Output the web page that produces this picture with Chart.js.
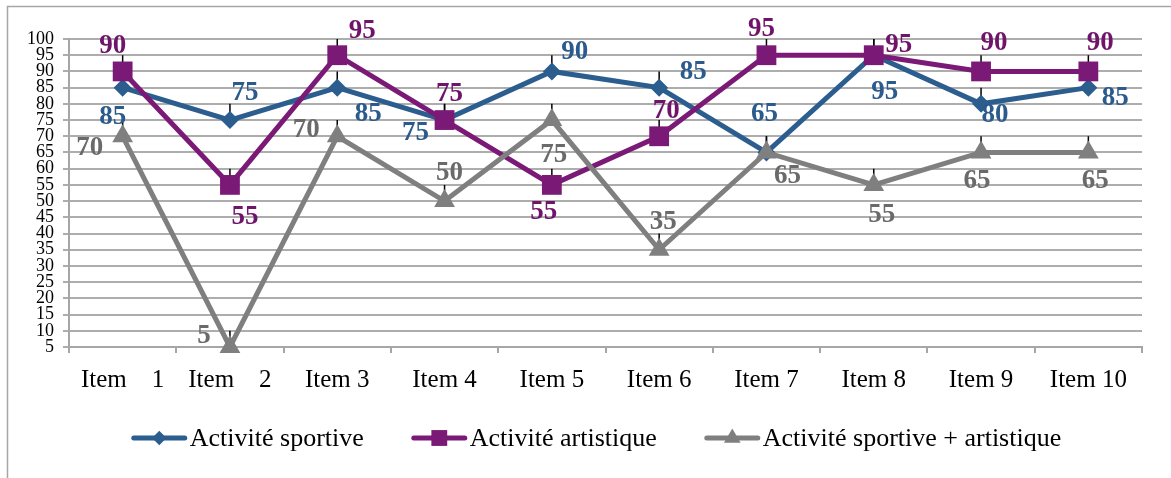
<!DOCTYPE html>
<html>
<head>
<meta charset="utf-8">
<style>
  html, body { margin: 0; padding: 0; background: #fff; }
</style>
<script src="https://cdn.jsdelivr.net/npm/chart.js@4.4.0/dist/chart.umd.min.js"></script>
</head>
<body>
<canvas id="chart" width="1171" height="478"></canvas>
<script>
// Chart data
const categories = ['Item    1', 'Item    2', 'Item 3', 'Item 4', 'Item 5', 'Item 6', 'Item 7', 'Item 8', 'Item 9', 'Item 10'];
const sportive = [85, 75, 85, 75, 90, 85, 65, 95, 80, 85];
const artistique = [90, 55, 95, 75, 55, 70, 95, 95, 90, 90];
const mixte = [70, 5, 70, 50, 75, 35, 65, 55, 65, 65];
const errorPlus = 5;
const yMin = 5, yMax = 100, yStep = 5;

// Value label offsets (px from the point)
const sportiveLabelPos = [[-10, 29], [15, -27], [31, 26], [-29, 13], [23, -19], [34, -16], [-2, -38], [11, 37], [14, 11], [27, 10]];
const artistiqueLabelPos = [[-10, -25], [15, 32], [25, -24], [5, -26], [-8, 27], [7, -25], [-5, -26], [25, -10], [13, -28], [12, -28]];
const mixteLabelPos = [[-33, 12], [-26, -11], [-31, -6], [5, -28], [2, 35], [4, -28], [21, 24], [8, 30], [-4, 29], [7, 29]];

const SERIF = '"Liberation Serif", "Times New Roman", serif';

const series = [
    { label: 'Activité sportive', data: sportive, color: '#2B5D8F', text: '#2B5B8C', style: 'rectRot', r: 9, pos: sportiveLabelPos, order: 2 },
    { label: 'Activité artistique', data: artistique, color: '#7B1A76', text: '#70146B', style: 'rect', r: 14, pos: artistiqueLabelPos, order: 1 },
    { label: 'Activité sportive + artistique', data: mixte, color: '#7F7F7F', text: '#6A6A6A', style: 'triangle', r: 12, pos: mixteLabelPos, order: 0 }
];

// Frame, error bars, value labels and legend
const decorations = {
    id: 'decorations',
    beforeDraw(chart) {
        const ctx = chart.ctx;
        ctx.save();
        ctx.strokeStyle = '#A6A6A6';
        ctx.lineWidth = 1.5;
        ctx.beginPath();
        ctx.moveTo(7.5, chart.height);
        ctx.lineTo(7.5, 6.5);
        ctx.lineTo(chart.width, 6.5);
        ctx.stroke();
        ctx.restore();
    },
    beforeDatasetsDraw(chart) {
        const ctx = chart.ctx;
        const y = chart.scales.y;
        ctx.save();
        ctx.strokeStyle = '#000';
        ctx.lineWidth = 1.5;
        chart.data.datasets.forEach((ds, i) => {
            const meta = chart.getDatasetMeta(i);
            meta.data.forEach((pt, j) => {
                ctx.beginPath();
                ctx.moveTo(pt.x, y.getPixelForValue(ds.data[j]));
                ctx.lineTo(pt.x, y.getPixelForValue(ds.data[j] + errorPlus));
                ctx.stroke();
            });
        });
        ctx.restore();
    },
    afterDatasetsDraw(chart) {
        const ctx = chart.ctx;
        ctx.save();
        ctx.font = 'bold 27px ' + SERIF;
        ctx.textAlign = 'center';
        ctx.textBaseline = 'middle';
        chart.data.datasets.forEach((ds, i) => {
            const s = series[i];
            const meta = chart.getDatasetMeta(i);
            ctx.fillStyle = s.text;
            meta.data.forEach((pt, j) => {
                ctx.fillText(String(ds.data[j]), pt.x + s.pos[j][0], pt.y + s.pos[j][1]);
            });
        });
        ctx.restore();
    },
    afterDraw(chart) {
        const ctx = chart.ctx;
        const lineLen = 55, textGap = 3, itemGap = 48, cy = 438;
        ctx.save();
        ctx.font = '26px ' + SERIF;
        ctx.textBaseline = 'middle';
        const widths = series.map(s => lineLen + textGap + ctx.measureText(s.label).width);
        const total = widths.reduce((a, b) => a + b, 0) + itemGap * (series.length - 1);
        let x = chart.width / 2 + 11 - total / 2;
        series.forEach((s, i) => {
            ctx.strokeStyle = s.color;
            ctx.lineWidth = 5;
            ctx.lineCap = 'round';
            ctx.beginPath();
            ctx.moveTo(x + 2, cy);
            ctx.lineTo(x + lineLen - 2, cy);
            ctx.stroke();
            ctx.fillStyle = s.color;
            Chart.helpers.drawPoint(ctx, { pointStyle: s.style, radius: s.r * 0.8, rotation: 0, borderWidth: 0 }, x + lineLen / 2, cy);
            ctx.fillStyle = '#000';
            ctx.fillText(s.label, x + lineLen + textGap, cy + 1);
            x += widths[i] + itemGap;
        });
        ctx.restore();
    }
};

new Chart(document.getElementById('chart'), {
    type: 'line',
    data: {
        labels: categories,
        datasets: series.map(s => ({
            label: s.label,
            data: s.data,
            borderColor: s.color,
            backgroundColor: s.color,
            borderWidth: 5,
            tension: 0,
            pointStyle: s.style,
            pointRadius: s.r,
            pointHoverRadius: s.r,
            pointBorderWidth: 0,
            pointBackgroundColor: s.color,
            order: s.order,
            clip: false
        }))
    },
    options: {
        responsive: false,
        animation: false,
        events: [],
        layout: { padding: { top: 39, right: 29, left: 0, bottom: 0 } },
        plugins: {
            legend: { display: false },
            tooltip: { enabled: false }
        },
        scales: {
            x: {
                offset: true,
                grid: { offset: true, drawOnChartArea: false, drawTicks: true, tickLength: 6, color: '#A6A6A6', lineWidth: 2 },
                border: { color: '#A6A6A6', width: 2 },
                ticks: { color: '#000', font: { family: SERIF, size: 25 }, padding: 12, maxRotation: 0, autoSkip: false },
                afterFit(scale) { scale.height = 131; }
            },
            y: {
                min: yMin,
                max: yMax,
                grid: { color: '#ADADAD', lineWidth: 2, tickLength: 6 },
                border: { color: '#A6A6A6', width: 2 },
                ticks: { stepSize: yStep, autoSkip: false, color: '#000', font: { family: SERIF, size: 18 }, padding: 9 },
                afterFit(scale) { scale.width = 69; }
            }
        }
    },
    plugins: [decorations]
});
</script>
</body>
</html>
